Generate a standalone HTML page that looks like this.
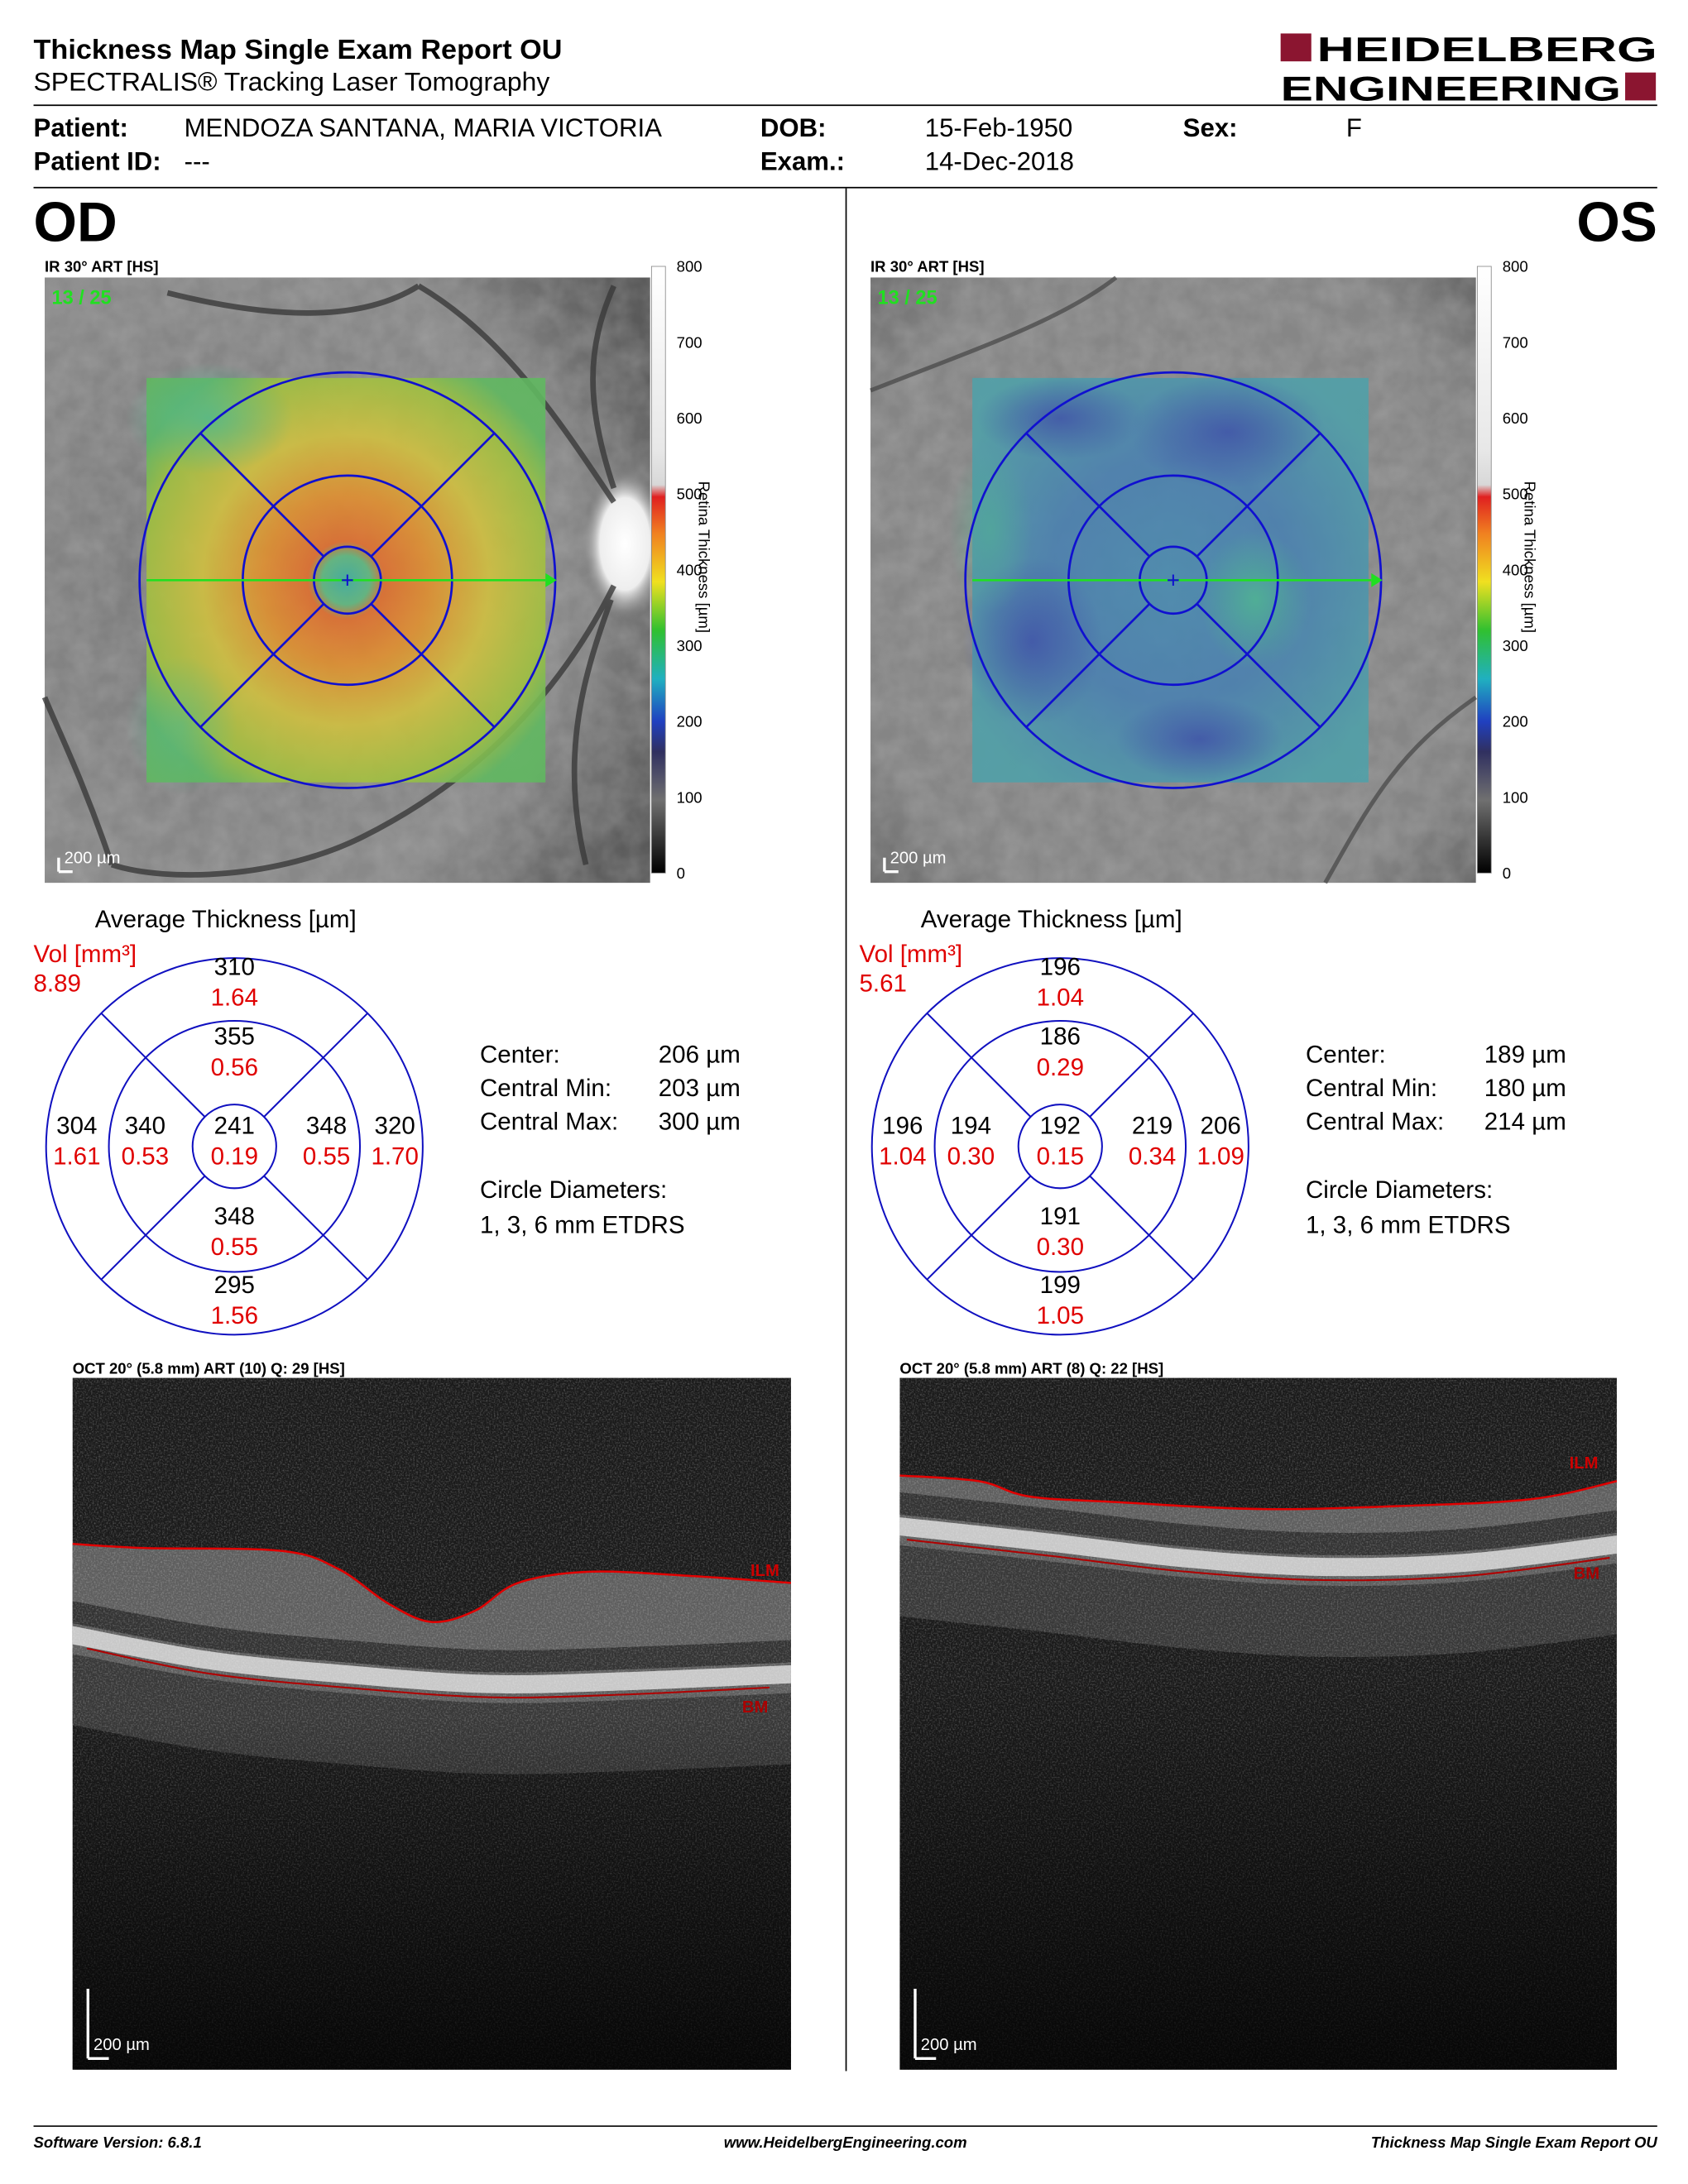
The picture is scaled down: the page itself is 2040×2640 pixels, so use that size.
<!DOCTYPE html>
<html><head><meta charset="utf-8">
<style>
html,body{margin:0;padding:0;background:#fff;}
svg{display:block;}
text{font-family:"Liberation Sans",sans-serif;}
</style></head>
<body>
<svg id="root" width="2040" height="2640" viewBox="0 0 1210 1566" xmlns="http://www.w3.org/2000/svg">
<defs>
  <linearGradient id="cbar" x1="0" y1="0" x2="0" y2="1">
    <stop offset="0" stop-color="#ffffff"/>
    <stop offset="0.3" stop-color="#e8e8e8"/>
    <stop offset="0.36" stop-color="#d8d8d8"/>
    <stop offset="0.38" stop-color="#e02020"/>
    <stop offset="0.44" stop-color="#f08020"/>
    <stop offset="0.52" stop-color="#f0e020"/>
    <stop offset="0.6" stop-color="#30c030"/>
    <stop offset="0.68" stop-color="#20b0c0"/>
    <stop offset="0.75" stop-color="#2040c0"/>
    <stop offset="0.8" stop-color="#303060"/>
    <stop offset="0.88" stop-color="#707070"/>
    <stop offset="1" stop-color="#000000"/>
  </linearGradient>
  <radialGradient id="fundOD" cx="0.3" cy="0.5" r="0.8">
    <stop offset="0" stop-color="#7a7a7a"/><stop offset="0.7" stop-color="#8a8a8a"/><stop offset="1" stop-color="#5a5a5a"/>
  </radialGradient>
  <radialGradient id="fundOS" cx="0.5" cy="0.5" r="0.8">
    <stop offset="0" stop-color="#8a8a8a"/><stop offset="0.7" stop-color="#858585"/><stop offset="1" stop-color="#555"/>
  </radialGradient>
  <radialGradient id="heatOD" cx="0.5" cy="0.5" r="0.6">
    <stop offset="0" stop-color="#40b0a0"/>
    <stop offset="0.1" stop-color="#60b880"/>
    <stop offset="0.16" stop-color="#e07030"/>
    <stop offset="0.35" stop-color="#e09030"/>
    <stop offset="0.6" stop-color="#d0c040"/>
    <stop offset="0.85" stop-color="#a0c040"/>
    <stop offset="1" stop-color="#60b860"/>
  </radialGradient>
  <radialGradient id="heatOS" cx="0.5" cy="0.5" r="0.6">
    <stop offset="0" stop-color="#4a8cb0"/>
    <stop offset="0.5" stop-color="#4a80b0"/>
    <stop offset="1" stop-color="#50a0a8"/>
  </radialGradient>
  <radialGradient id="blob" cx="0.5" cy="0.5" r="0.5">
    <stop offset="0" stop-color="#4050a8" stop-opacity="0.8"/><stop offset="1" stop-color="#4050a8" stop-opacity="0"/>
  </radialGradient>
  <radialGradient id="blobG" cx="0.5" cy="0.5" r="0.5">
    <stop offset="0" stop-color="#50b890" stop-opacity="0.8"/><stop offset="1" stop-color="#50b890" stop-opacity="0"/>
  </radialGradient>
  <radialGradient id="disc" cx="0.5" cy="0.5" r="0.5">
    <stop offset="0" stop-color="#fff"/><stop offset="0.6" stop-color="#eee"/><stop offset="1" stop-color="#888" stop-opacity="0"/>
  </radialGradient>
  <filter id="noise" x="0" y="0" width="100%" height="100%">
    <feTurbulence type="fractalNoise" baseFrequency="0.9" numOctaves="2" seed="3"/>
    <feColorMatrix type="matrix" values="0 0 0 0 1  0 0 0 0 1  0 0 0 0 1  1.4 0 0 0 -0.6"/>
  </filter>
  <filter id="tex" x="0" y="0" width="100%" height="100%">
    <feTurbulence type="fractalNoise" baseFrequency="0.06" numOctaves="3" seed="7"/>
    <feColorMatrix type="matrix" values="0 0 0 0 0.5  0 0 0 0 0.5  0 0 0 0 0.5  0 0 0 0.9 -0.2"/>
  </filter>
  <linearGradient id="octFade" x1="0" y1="0" x2="0" y2="1">
    <stop offset="0" stop-color="#000" stop-opacity="0"/><stop offset="1" stop-color="#000" stop-opacity="0.75"/>
  </linearGradient>
</defs>

<!-- Header -->
<text x="24" y="42" font-size="20" font-weight="bold" textLength="379" lengthAdjust="spacingAndGlyphs">Thickness Map Single Exam Report OU</text>
<text x="24" y="65" font-size="18.5" textLength="370" lengthAdjust="spacingAndGlyphs">SPECTRALIS® Tracking Laser Tomography</text>
<g>
  <rect x="918" y="24" width="22" height="20" fill="#8b1530"/>
  <text x="944" y="44" font-size="25" font-weight="bold" textLength="244" lengthAdjust="spacingAndGlyphs">HEIDELBERG</text>
  <text x="918" y="72" font-size="25" font-weight="bold" textLength="244" lengthAdjust="spacingAndGlyphs">ENGINEERING</text>
  <rect x="1165" y="52" width="22" height="20" fill="#8b1530"/>
</g>
<line x1="24" y1="75.5" x2="1188" y2="75.5" stroke="#000" stroke-width="1"/>
<g font-size="18.5">
  <text x="24" y="98" font-weight="bold">Patient:</text>
  <text x="132" y="98">MENDOZA SANTANA, MARIA VICTORIA</text>
  <text x="545" y="98" font-weight="bold">DOB:</text>
  <text x="663" y="98">15-Feb-1950</text>
  <text x="848" y="98" font-weight="bold">Sex:</text>
  <text x="965" y="98">F</text>
  <text x="24" y="122" font-weight="bold">Patient ID:</text>
  <text x="132" y="122">---</text>
  <text x="545" y="122" font-weight="bold">Exam.:</text>
  <text x="663" y="122">14-Dec-2018</text>
</g>
<line x1="24" y1="134.5" x2="1188" y2="134.5" stroke="#000" stroke-width="1"/>
<line x1="606.5" y1="135" x2="606.5" y2="1485" stroke="#000" stroke-width="1"/>
<text x="24" y="173" font-size="40" font-weight="bold">OD</text>
<text x="1188" y="173" font-size="40" font-weight="bold" text-anchor="end">OS</text>

<!-- Fundus OD -->
<g>
  <text x="32" y="195" font-size="11" font-weight="bold">IR 30° ART [HS]</text>
  <rect x="32" y="199" width="434" height="434" fill="url(#fundOD)"/>
  <rect x="32" y="199" width="434" height="434" filter="url(#tex)" opacity="0.5"/>
  <ellipse cx="448" cy="390" rx="30" ry="55" fill="url(#disc)"/>
  <g fill="none" stroke="#3a3a3a" stroke-width="4" opacity="0.8">
    <path d="M440 360 C400 300 360 240 300 205"/>
    <path d="M440 420 C400 500 340 560 260 600 C200 630 120 633 80 620"/>
    <path d="M440 350 C420 290 420 250 440 205"/>
    <path d="M438 430 C420 480 400 540 420 620"/>
    <path d="M300 205 C260 230 200 230 120 210"/>
    <path d="M80 620 C60 560 40 520 32 500"/>
  </g>
  <rect x="105" y="271" width="286" height="290" fill="url(#heatOD)" opacity="0.9"/>
  <ellipse cx="150" cy="300" rx="60" ry="40" fill="url(#blobG)"/>
  <ellipse cx="130" cy="520" rx="40" ry="50" fill="url(#blobG)" opacity="0.6"/>
  <text x="37" y="218" font-size="14" font-weight="bold" fill="#20e020">13 / 25</text>
  <path d="M42 625 V615 M42 625 H52" stroke="#fff" stroke-width="2" fill="none"/>
  <text x="46" y="619" font-size="12" fill="#fff">200 µm</text>
</g>
<!-- Fundus OS -->
<g>
  <text x="624" y="195" font-size="11" font-weight="bold">IR 30° ART [HS]</text>
  <rect x="624" y="199" width="434" height="434" fill="url(#fundOS)"/>
  <rect x="624" y="199" width="434" height="434" filter="url(#tex)" opacity="0.5"/>
  <g fill="none" stroke="#444" stroke-width="3" opacity="0.7">
    <path d="M1058 500 C1000 540 980 580 950 633"/>
    <path d="M624 280 C700 250 760 230 800 199"/>
  </g>
  <rect x="697" y="271" width="284" height="290" fill="url(#heatOS)" opacity="0.9"/>
  <ellipse cx="760" cy="300" rx="60" ry="30" fill="url(#blob)"/>
  <ellipse cx="880" cy="310" rx="70" ry="40" fill="url(#blob)"/>
  <ellipse cx="740" cy="460" rx="50" ry="60" fill="url(#blob)"/>
  <ellipse cx="860" cy="530" rx="60" ry="30" fill="url(#blob)"/>
  <ellipse cx="900" cy="430" rx="40" ry="50" fill="url(#blobG)"/>
  <ellipse cx="710" cy="380" rx="30" ry="60" fill="url(#blobG)" opacity="0.6"/>
  <text x="629" y="218" font-size="14" font-weight="bold" fill="#20e020">13 / 25</text>
  <path d="M634 625 V615 M634 625 H644" stroke="#fff" stroke-width="2" fill="none"/>
  <text x="638" y="619" font-size="12" fill="#fff">200 µm</text>
</g>
<g id="overlays"></g>
<g id="colorbars"></g>
<g id="etdrs"></g>

<!-- OCT -->
<g>
  <text x="52" y="985" font-size="11" font-weight="bold">OCT 20° (5.8 mm) ART (10) Q: 29 [HS]</text>
  <rect x="52" y="988" width="515" height="496" fill="#1a1a1a"/>
  <path id="odChor" fill="#383838"/>
  <path id="odBand" fill="#5e5e5e"/>
  <path id="odOnl" fill="#333"/>
  <path id="odRpe" fill="#c8c8c8"/>
  <rect x="52" y="988" width="515" height="496" filter="url(#noise)" opacity="0.4"/>
  <rect x="52" y="1230" width="515" height="254" fill="url(#octFade)"/>
  <path d="M63 1476 V1426 M63 1476 H78" stroke="#fff" stroke-width="2" fill="none"/>
  <text x="67" y="1470" font-size="12" fill="#fff">200 µm</text>
  <text x="538" y="1130" font-size="12" font-weight="bold" fill="#c00">ILM</text>
  <text x="532" y="1228" font-size="12" font-weight="bold" fill="#a00">BM</text>
</g>
<g>
  <text x="645" y="985" font-size="11" font-weight="bold">OCT 20° (5.8 mm) ART (8) Q: 22 [HS]</text>
  <rect x="645" y="988" width="514" height="496" fill="#1a1a1a"/>
  <path id="osChor" fill="#383838"/>
  <path id="osBand" fill="#5e5e5e"/>
  <path id="osOnl" fill="#333"/>
  <path id="osRpe" fill="#c8c8c8"/>
  <rect x="645" y="988" width="514" height="496" filter="url(#noise)" opacity="0.4"/>
  <rect x="645" y="1200" width="514" height="284" fill="url(#octFade)"/>
  <path d="M656 1476 V1426 M656 1476 H671" stroke="#fff" stroke-width="2" fill="none"/>
  <text x="660" y="1470" font-size="12" fill="#fff">200 µm</text>
  <text x="1125" y="1053" font-size="12" font-weight="bold" fill="#c00">ILM</text>
  <text x="1128" y="1132" font-size="12" font-weight="bold" fill="#a00">BM</text>
</g>
<g id="segs"></g>

<!-- Footer -->
<line x1="24" y1="1524.5" x2="1188" y2="1524.5" stroke="#000" stroke-width="1"/>
<g font-size="11" font-weight="bold" font-style="italic">
  <text x="24" y="1540">Software Version: 6.8.1</text>
  <text x="606" y="1540" text-anchor="middle">www.HeidelbergEngineering.com</text>
  <text x="1188" y="1540" text-anchor="end">Thickness Map Single Exam Report OU</text>
</g>
</svg>

<script>
// ---- data ----
const cbTicks = [0,100,200,300,400,500,600,700,800];
const sectorNames = ['center','superior-inner','superior-outer','inferior-inner','inferior-outer','left-inner','left-outer','right-inner','right-outer'];
const odThick = [241,355,310,348,295,340,304,348,320];
const odVol = ['0.19','0.56','1.64','0.55','1.56','0.53','1.61','0.55','1.70'];
const osThick = [192,186,196,191,199,194,196,219,206];
const osVol = ['0.15','0.29','1.04','0.30','1.05','0.30','1.04','0.34','1.09'];
const odTotalVol = '8.89';
const osTotalVol = '5.61';
const odStats = ['206 µm','203 µm','300 µm'];
const osStats = ['189 µm','180 µm','214 µm'];
const statLabels = ['Center:','Central Min:','Central Max:'];
const odIlmX = [0,0.1,0.29,0.37,0.44,0.5,0.56,0.62,0.72,0.86,1];
const odIlmY = [1107,1110,1112,1125,1150,1163,1155,1135,1127,1130,1135];
const odBmX = [0.02,0.19,0.38,0.58,0.77,0.97];
const odBmY = [1182,1200,1210,1217,1215,1210];
const osIlmX = [0,0.11,0.18,0.3,0.5,0.69,0.88,1];
const osIlmY = [1058,1062,1073,1077,1082,1080,1075,1062];
const osBmX = [0.01,0.2,0.4,0.59,0.79,0.99];
const osBmY = [1104,1115,1127,1133,1130,1117];

const NS='http://www.w3.org/2000/svg';
function mk(tag, parent, attrs){const e=document.createElementNS(NS,tag);for(const k in attrs)e.setAttribute(k,attrs[k]);parent.appendChild(e);return e;}

// ---- colorbars ----
const cbg=document.getElementById('colorbars');
[[467,'od'],[1059,'os']].forEach(([x,eye])=>{
  const g=mk('g',cbg,{});
  
  
  const top=191,bot=626;
  const yScale=v=>bot-(v-cbTicks[0])/(cbTicks[cbTicks.length-1]-cbTicks[0])*(bot-top);
  mk('rect',g,{x:x,y:top,width:10,height:bot-top,fill:'url(#cbar)',stroke:'#888','stroke-width':0.5});
  cbTicks.forEach(t=>{
    const tx=mk('text',g,{x:x+18,y:yScale(t)+4,'font-size':11});
    tx.textContent=t;
    
    
  });
  const lab=mk('text',g,{x:0,y:0,'font-size':11,transform:`translate(${x+34},345) rotate(90)`});
  lab.textContent='Retina  Thickness [µm]';
  
  
});

// ---- fundus overlays ----
const ov=document.getElementById('overlays');
[[249,'od'],[841,'os']].forEach(([cx,eye])=>{
  const cy=416;
  const g=mk('g',ov,{fill:'none',stroke:'#1010d0','stroke-width':1.6});
  
  
  [149,75,24].forEach(r=>mk('circle',g,{cx:cx,cy:cy,r:r}));
  [45,135,225,315].forEach(a=>{const c=Math.cos(a*Math.PI/180),s=Math.sin(a*Math.PI/180);
    mk('line',g,{x1:cx+24*c,y1:cy+24*s,x2:cx+149*c,y2:cy+149*s});});
  mk('line',g,{x1:cx-144,y1:cy,x2:cx+142,y2:cy,stroke:'#20e020','stroke-width':1.6});
  mk('path',g,{d:`M${cx+142} ${cy-5} L${cx+150} ${cy} L${cx+142} ${cy+5}Z`,fill:'#20e020',stroke:'none'});
  mk('path',g,{d:`M${cx-4} ${cy}H${cx+4}M${cx} ${cy-4}V${cy+4}`,'stroke-width':1.2});
});

// ---- ETDRS charts ----
const sectorOff=[[0,-9],[0,-73],[0,-123],[0,56],[0,105],[-64,-9],[-113,-9],[66,-9],[115,-9]];
const et=document.getElementById('etdrs');
[[168,'od',odThick,odVol,odTotalVol,odStats],[760,'os',osThick,osVol,osTotalVol,osStats]].forEach(([cx,eye,th,vo,tv,st])=>{
  const cy=822, ox=cx-168;
  const g=mk('g',et,{});
  
  
  const t1=mk('text',g,{x:68+ox,y:665,'font-size':17.5});t1.textContent='Average Thickness [µm]';
  const t2=mk('text',g,{x:24+ox,y:690,'font-size':17.5,fill:'#e00000'});t2.textContent='Vol [mm³]';
  const t3=mk('text',g,{x:24+ox,y:711,'font-size':17.5,fill:'#e00000'});t3.textContent=tv;
  const cg=mk('g',g,{fill:'none',stroke:'#1010c0','stroke-width':1.2});
  [135,90,30].forEach(r=>mk('circle',cg,{cx:cx,cy:cy,r:r}));
  [45,135,225,315].forEach(a=>{const c=Math.cos(a*Math.PI/180),s=Math.sin(a*Math.PI/180);
    mk('line',cg,{x1:cx+30*c,y1:cy+30*s,x2:cx+135*c,y2:cy+135*s});});
  th.forEach((v,i)=>{
    const [dx,dy]=sectorOff[i];
    const a=mk('text',g,{x:cx+dx,y:cy+dy,'font-size':17.5,'text-anchor':'middle'});a.textContent=v;
    
    
    const b=mk('text',g,{x:cx+dx,y:cy+dy+22,'font-size':17.5,'text-anchor':'middle',fill:'#e00000'});b.textContent=vo[i];
    
    
  });
  const stg=mk('g',g,{'font-size':17.5});
  
  
  statLabels.forEach((l,i)=>{
    mk('text',stg,{x:344+ox,y:762+24*i}).textContent=l;
    mk('text',stg,{x:472+ox,y:762+24*i}).textContent=st[i];
  });
  mk('text',stg,{x:344+ox,y:859}).textContent='Circle Diameters:';
  mk('text',stg,{x:344+ox,y:884}).textContent='1, 3, 6 mm ETDRS';
});

// ---- OCT segmentation lines (smooth curves) ----
function pts(xs,ys,x0,w,d){return xs.map((f,i)=>[x0+f*w,ys[i]+(d||0)]);}
function smooth(p){
  let s='M'+p[0][0].toFixed(1)+' '+p[0][1];
  for(let i=0;i<p.length-1;i++){
    const p0=p[i-1]||p[i],p1=p[i],p2=p[i+1],p3=p[i+2]||p2;
    const c1=[p1[0]+(p2[0]-p0[0])/6,p1[1]+(p2[1]-p0[1])/6];
    const c2=[p2[0]-(p3[0]-p1[0])/6,p2[1]-(p3[1]-p1[1])/6];
    s+=` C${c1[0].toFixed(1)} ${c1[1].toFixed(1)} ${c2[0].toFixed(1)} ${c2[1].toFixed(1)} ${p2[0].toFixed(1)} ${p2[1]}`;
  }
  return s;
}
function area(topP,botP){return smooth(topP)+' L'+smooth(botP.slice().reverse()).slice(1)+' Z';}
function extend(p,x0,w){const q=p.slice();q[0]=[x0,q[0][1]];q[q.length-1]=[x0+w,q[q.length-1][1]];return q;}
const segG=document.getElementById('segs');
[[52,515,odIlmX,odIlmY,odBmX,odBmY,'od'],[645,514,osIlmX,osIlmY,osBmX,osBmY,'os']].forEach(([x0,w,ix,iy,bx,by,eye])=>{
  const ilm=pts(ix,iy,x0,w);
  const bmE=extend(pts(bx,by,x0,w),x0,w);
  const sh=d=>bmE.map(p=>[p[0],p[1]+d]);
  document.getElementById(eye+'Chor').setAttribute('d',area(sh(0),sh(55)));
  document.getElementById(eye+'Band').setAttribute('d',area(ilm,sh(4)));
  document.getElementById(eye+'Onl').setAttribute('d',area(sh(-34),sh(-18)));
  document.getElementById(eye+'Rpe').setAttribute('d',area(sh(-16),sh(-3)));
  const il=mk('path',segG,{d:smooth(ilm),fill:'none',stroke:'#e00000','stroke-width':1.5});
  
  
  const bm=mk('path',segG,{d:smooth(pts(bx,by,x0,w)),fill:'none',stroke:'#b00000','stroke-width':1.2});
  
  
});
</script>
</body></html>
